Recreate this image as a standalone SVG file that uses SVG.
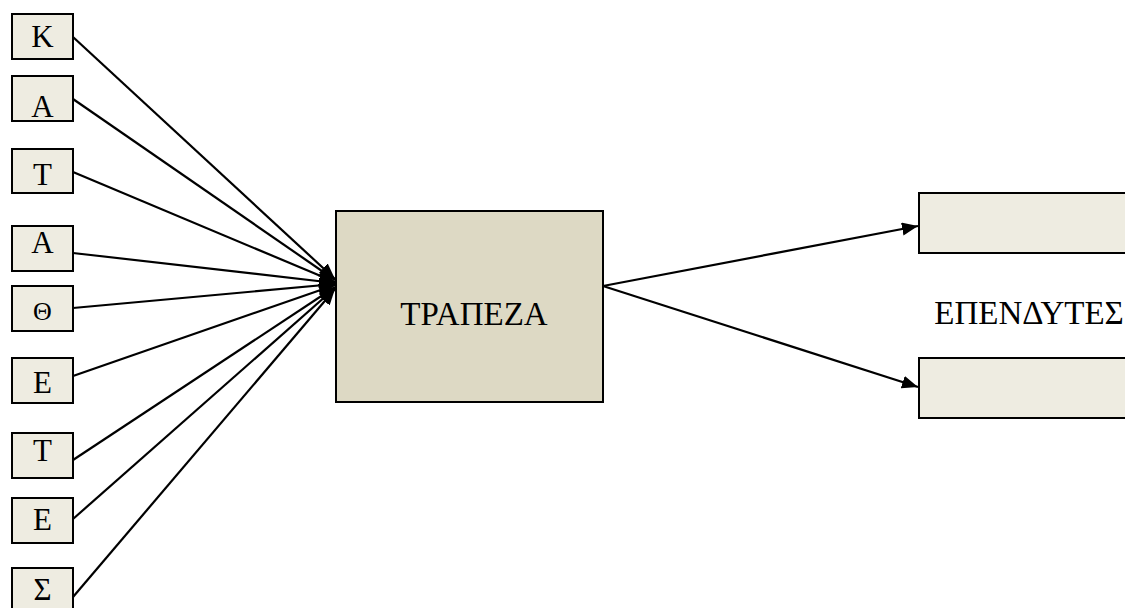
<svg xmlns="http://www.w3.org/2000/svg" width="1125" height="608" viewBox="0 0 1125 608">
<style>
.sb{fill:#EEECE1;stroke:#000;stroke-width:2}
.big{fill:#DDD9C4;stroke:#000;stroke-width:2}
.t{font-family:"Liberation Serif","Times New Roman",serif;font-size:31px;fill:#000;text-anchor:middle}
.tb{font-family:"Liberation Serif","Times New Roman",serif;font-size:33px;fill:#000;text-anchor:middle}
.c{stroke:#000;stroke-width:2.2;fill:none;marker-end:url(#ah)}
</style>
<defs>
<marker id="ah" markerUnits="userSpaceOnUse" markerWidth="18" markerHeight="14" refX="16" refY="6.5" orient="auto">
<path d="M0,0 L16,6.5 L0,13 z" fill="#000"/>
</marker>
</defs>
<rect width="1125" height="608" fill="#fff"/>
<g id="connectors">
<line class="c" x1="73" y1="37" x2="335" y2="279"/>
<line class="c" x1="73" y1="99" x2="335" y2="280"/>
<line class="c" x1="73" y1="172" x2="335" y2="282"/>
<line class="c" x1="73" y1="253" x2="335" y2="283"/>
<line class="c" x1="73" y1="308" x2="335" y2="284"/>
<line class="c" x1="73" y1="376" x2="335" y2="285"/>
<line class="c" x1="73" y1="460" x2="335" y2="287"/>
<line class="c" x1="73" y1="519" x2="335" y2="288"/>
<line class="c" x1="73" y1="597" x2="335" y2="289"/>
<line class="c" x1="603" y1="286" x2="918" y2="226"/>
<line class="c" x1="603" y1="286" x2="918" y2="387"/>
</g>
<g id="n-k"><rect class="sb" x="12" y="14" width="61" height="45"/><text class="t" x="42.5" y="47">Κ</text></g>
<g id="n-a1"><rect class="sb" x="12" y="76" width="61" height="45"/><text class="t" x="42.5" y="117">Α</text></g>
<g id="n-t1"><rect class="sb" x="12" y="149" width="61" height="44"/><text class="t" x="42.5" y="185">Τ</text></g>
<g id="n-a2"><rect class="sb" x="12" y="226" width="61" height="45"/><text class="t" x="42.5" y="253">Α</text></g>
<g id="n-th"><rect class="sb" x="12" y="286" width="61" height="45"/><text class="t" x="42.5" y="320" style="font-size:26px">Θ</text></g>
<g id="n-e1"><rect class="sb" x="12" y="358" width="61" height="45"/><text class="t" x="42.5" y="393">Ε</text></g>
<g id="n-t2"><rect class="sb" x="12" y="433" width="61" height="45"/><text class="t" x="42.5" y="461">Τ</text></g>
<g id="n-e2"><rect class="sb" x="12" y="498" width="61" height="45"/><text class="t" x="42.5" y="530">Ε</text></g>
<g id="n-s"><rect class="sb" x="12" y="568" width="61" height="45"/><text class="t" x="42.5" y="600">Σ</text></g>
<g id="n-bank"><rect class="big" x="336" y="211" width="267" height="191"/><text class="tb" x="474" y="325">ΤΡΑΠΕΖΑ</text></g>
<g id="n-inv1"><rect class="sb" x="919" y="193" width="220" height="60"/></g>
<g id="n-inv2"><rect class="sb" x="919" y="358" width="220" height="60"/></g>
<g id="n-label"><text class="tb" x="1029" y="324">ΕΠΕΝΔΥΤΕΣ</text></g>
</svg>
